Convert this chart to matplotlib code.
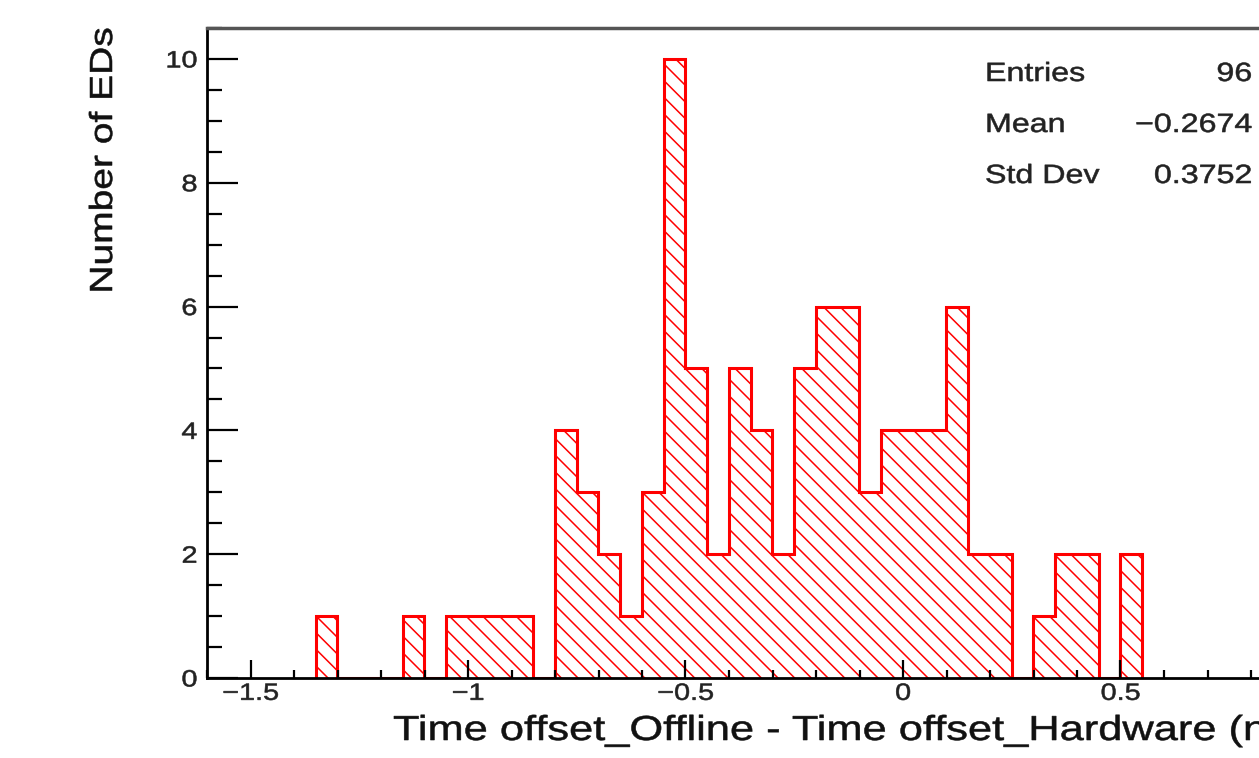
import numpy as np
import matplotlib.pyplot as plt
from matplotlib.patheffects import AbstractPathEffect
from matplotlib.transforms import Affine2D

plt.rcParams['font.family'] = ['Liberation Sans', 'DejaVu Sans']
plt.rcParams['hatch.linewidth'] = 1.1

# histogram: 0.05 wide bins starting at -1.35
bin_lo = -1.35
bin_width = 0.05
counts = [1, 0, 0, 0, 1, 0, 1, 1, 1, 1, 0,
          4, 3, 2, 1, 3, 10, 5, 2, 5, 4, 2, 5, 6, 6, 3, 4,
          4, 4, 6, 2, 2, 0, 1, 2, 2, 0, 2]

stat_names = ['Entries', 'Mean', 'Std Dev']
stat_values = ['96', '\u22120.2674', '0.3752']

x_major = [-1.5, -1.0, -0.5, 0.0, 0.5]
x_labels = ['\u22121.5', '\u22121', '\u22120.5', '0', '0.5']

edges = bin_lo + bin_width * np.arange(len(counts) + 1)


class Stretch(AbstractPathEffect):
    """widen glyphs along the text direction (ROOT fonts run wider)"""

    def __init__(self, sx=1.22, anchor='left', bold=0.4):
        super().__init__()
        self.sx = sx
        self.anchor = anchor
        self.bold = bold

    def draw_path(self, renderer, gc, tpath, affine, rgbFace=None):
        xs = tpath.vertices[:, 0]
        if self.anchor == 'right':
            x0 = xs.max()
        elif self.anchor == 'center':
            x0 = 0.5 * (xs.min() + xs.max())
        else:
            x0 = 0.0
        t = Affine2D().translate(-x0, 0).scale(self.sx, 1).translate(x0, 0)
        gc0 = renderer.new_gc()
        gc0.copy_properties(gc)
        gc0.set_linewidth(self.bold)
        if rgbFace is not None:
            gc0.set_foreground(rgbFace)
        renderer.draw_path(gc0, tpath, t + affine, rgbFace)
        gc0.restore()


W, H = 1259, 758
fig = plt.figure(figsize=(W / 100, H / 100), dpi=100)
# axes runs off the right edge of the picture, as in the original
ax = fig.add_axes([207 / W, 80 / H, 1131 / W, 650 / H])

ax.bar(edges[:-1], counts, width=bin_width, align='edge',
       facecolor='none', edgecolor='red', linewidth=0, hatch='\\\\')
ax.stairs(counts, edges, baseline=0, color='red', linewidth=2.2)

ax.set_xlim(-1.6, 1.0)
ax.set_ylim(0, 10.5)

ax.set_xticks(x_major)
ax.set_xticklabels(x_labels)
ax.set_xticks(np.arange(-1.6, 1.01, 0.1), minor=True)
ax.set_yticks(range(0, 11, 2))
ax.set_yticks(np.arange(0, 10.51, 0.5), minor=True)

ax.tick_params(axis='both', which='both', direction='in', width=1.6,
               labelsize=17, color='black', labelcolor='#222222')
ax.tick_params(axis='x', which='major', length=13, pad=3.5)
ax.tick_params(axis='x', which='minor', length=6)
ax.tick_params(axis='y', which='major', length=22, pad=7)
ax.tick_params(axis='y', which='minor', length=11)
ax.tick_params(top=False, right=False, which='both')

for t in ax.xaxis.get_major_ticks():
    t.label1.set_path_effects([Stretch(anchor='center')])
for t in ax.yaxis.get_major_ticks():
    t.label1.set_path_effects([Stretch(anchor='right')])

for s in ['left', 'bottom']:
    ax.spines[s].set_linewidth(2.0)
    ax.spines[s].set_color('black')
ax.spines['top'].set_linewidth(2.5)
ax.spines['top'].set_color('#555555')
ax.spines['right'].set_visible(False)

fig.text(393 / W, 1 - 740 / H,
         'Time offset_Offline - Time offset_Hardware (ns)',
         fontsize=25, ha='left', va='baseline', color='#111111',
         path_effects=[Stretch(sx=1.25)])
fig.text(104 / W, 1 - 27 / H, 'Number of EDs', rotation=90,
         fontsize=23, ha='center', va='top', color='#111111',
         path_effects=[Stretch(anchor='right')])

for i, (name, val) in enumerate(zip(stat_names, stat_values)):
    y = 1 - (81 + 51 * i) / H
    fig.text(985 / W, y, name, fontsize=19, ha='left', va='baseline',
             color='#222222', path_effects=[Stretch()])
    fig.text(1252 / W, y, val, fontsize=19, ha='right', va='baseline',
             color='#222222', path_effects=[Stretch(anchor='right')])

fig.savefig('out.png', dpi=100)
